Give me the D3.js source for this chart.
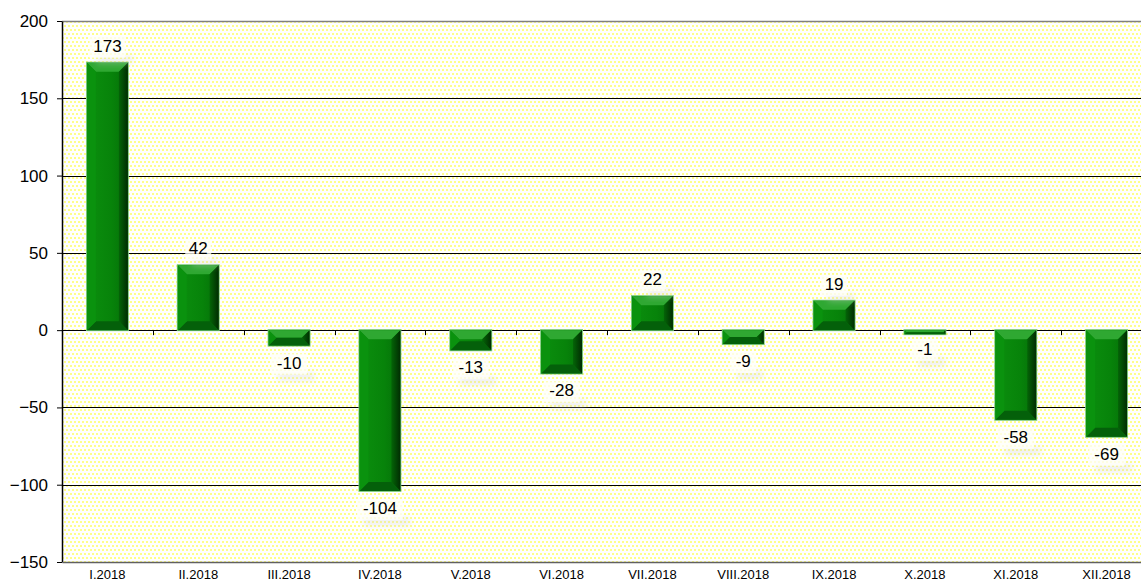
<!DOCTYPE html>
<html>
<head>
<meta charset="utf-8">
<script src="https://cdn.jsdelivr.net/npm/d3@7"></script>
<style>
  body { margin: 0; background: #fff; }
  svg { display: block; font-family: "Liberation Sans", Arial, sans-serif; }
</style>
</head>
<body>
<div id="chart"></div>
<script>
const categories = ['I.2018', 'II.2018', 'III.2018', 'IV.2018', 'V.2018', 'VI.2018',
  'VII.2018', 'VIII.2018', 'IX.2018', 'X.2018', 'XI.2018', 'XII.2018'];
const values = [173, 42, -10, -104, -13, -28, 22, -9, 19, -1, -58, -69];
const yTicks = [-150, -100, -50, 0, 50, 100, 150, 200];

const W = 1141, H = 586;
const margin = { top: 21, right: 0, bottom: 24, left: 62 };
const plotW = 1090;
const plotH = H - margin.top - margin.bottom;

const svg = d3.select('#chart').append('svg')
  .attr('width', W)
  .attr('height', H);

const defs = svg.append('defs');

// dotted yellow background
const pat = defs.append('pattern')
  .attr('id', 'dots')
  .attr('patternUnits', 'userSpaceOnUse')
  .attr('width', 4)
  .attr('height', 8);
pat.append('rect').attr('width', 4).attr('height', 8).attr('fill', '#ffffff');
pat.append('rect').attr('x', 0).attr('y', 0).attr('width', 2).attr('height', 2).attr('fill', '#ffff8a');
pat.append('rect').attr('x', 2).attr('y', 4).attr('width', 2).attr('height', 2).attr('fill', '#ffff8a');

const blur = defs.append('filter').attr('id', 'soft')
  .attr('x', '-30%').attr('y', '-60%').attr('width', '160%').attr('height', '220%');
blur.append('feGaussianBlur').attr('stdDeviation', 3);

// bar face gradient (left to right)
const face = defs.append('linearGradient').attr('id', 'face')
  .attr('x1', 0).attr('x2', 1).attr('y1', 0).attr('y2', 0);
face.append('stop').attr('offset', '0%').attr('stop-color', '#0b8f0e');
face.append('stop').attr('offset', '60%').attr('stop-color', '#07830a');
face.append('stop').attr('offset', '100%').attr('stop-color', '#056f08');

const side = defs.append('linearGradient').attr('id', 'side')
  .attr('x1', 0).attr('x2', 1).attr('y1', 0).attr('y2', 0);
side.append('stop').attr('offset', '0%').attr('stop-color', '#046507');
side.append('stop').attr('offset', '100%').attr('stop-color', '#012d02');

const g = svg.append('g')
  .attr('transform', `translate(${margin.left},${margin.top})`);

const x = d3.scaleBand()
  .domain(categories)
  .range([0, plotW])
  .paddingInner(0.55)
  .paddingOuter(0.275);

const y = d3.scaleLinear()
  .domain([-150, 200])
  .range([plotH, 0]);

g.append('rect')
  .attr('width', plotW)
  .attr('height', plotH)
  .attr('fill', 'url(#dots)');

// gridlines
g.append('g')
  .selectAll('line')
  .data(yTicks.filter(d => d !== 200 && d !== -150))
  .join('line')
  .attr('x1', 0)
  .attr('x2', plotW)
  .attr('y1', d => Math.round(y(d)) + 0.5)
  .attr('y2', d => Math.round(y(d)) + 0.5)
  .attr('stroke', '#000')
  .attr('stroke-width', 1);

// top border
g.append('line')
  .attr('x1', 0).attr('x2', plotW)
  .attr('y1', 0.5).attr('y2', 0.5)
  .attr('stroke', '#808080').attr('stroke-width', 1.5);

// y axis
const yAxis = g.append('g')
  .call(d3.axisLeft(y).tickValues(yTicks).tickSize(5).tickSizeOuter(0));
yAxis.select('.domain').attr('stroke', '#000').attr('stroke-width', 1.5);
yAxis.selectAll('.tick line').attr('stroke', '#000');
yAxis.selectAll('.tick text')
  .attr('x', -14)
  .attr('font-size', 17)
  .attr('font-family', '"Liberation Sans", Arial, sans-serif')
  .attr('fill', '#000');

// bottom border with category labels
const xAxis = g.append('g')
  .attr('transform', `translate(0,${plotH})`)
  .call(d3.axisBottom(x).tickSize(0).tickSizeOuter(0));
xAxis.select('.domain').attr('stroke', '#606060').attr('stroke-width', 1.5);
xAxis.selectAll('.tick text')
  .attr('dy', '1.05em')
  .attr('font-size', 13)
  .attr('font-family', '"Liberation Sans", Arial, sans-serif')
  .attr('fill', '#000');

// category ticks on zero line
const step = x.step();
g.append('g')
  .selectAll('line')
  .data(categories.slice(1))
  .join('line')
  .attr('x1', d => Math.round(x(d) - (step - x.bandwidth()) / 2) + 0.5)
  .attr('x2', d => Math.round(x(d) - (step - x.bandwidth()) / 2) + 0.5)
  .attr('y1', y(0))
  .attr('y2', y(0) + 5)
  .attr('stroke', '#000');

// bars with bevel
const data = categories.map((c, i) => ({ cat: c, val: values[i] }));
const bars = g.append('g').selectAll('g').data(data).join('g');

const bev = 9;
bars.each(function (d) {
  const sel = d3.select(this);
  const x0 = x(d.cat), x1 = x0 + x.bandwidth();
  const top = y(Math.max(0, d.val));
  const bot = Math.max(y(Math.min(0, d.val)), top + 4);
  const h = bot - top;
  const b = Math.min(bev, h / 2);
  sel.append('rect')
    .attr('x', x0 - 1).attr('y', top - 1)
    .attr('width', x1 - x0 + 2).attr('height', h + 2)
    .attr('fill', '#7cc87c');
  sel.append('rect')
    .attr('x', x0).attr('y', top)
    .attr('width', x1 - x0).attr('height', h)
    .attr('fill', 'url(#face)');
  const poly = (pts, fill) => sel.append('polygon')
    .attr('points', pts.map(p => p.join(',')).join(' '))
    .attr('fill', fill);
  poly([[x0, top], [x1, top], [x1 - b, top + b], [x0 + b, top + b]], '#2fa832');
  poly([[x1, top], [x1, bot], [x1 - b, bot - b], [x1 - b, top + b]], 'url(#side)');
  poly([[x0, bot], [x1, bot], [x1 - b, bot - b], [x0 + b, bot - b]], '#04600a');
  poly([[x0, top], [x0 + b, top + b], [x0 + b, bot - b], [x0, bot]], '#0a920e');
});

// value labels with soft shadow
const labels = g.append('g').selectAll('g').data(data).join('g')
  .attr('transform', d => {
    const cx = x(d.cat) + x.bandwidth() / 2;
    const ly = d.val >= 0 ? y(d.val) - 11 : y(d.val) + 23;
    return `translate(${cx},${ly})`;
  });

labels.append('rect')
  .attr('x', d => -String(d.val).length * 5 + 4)
  .attr('y', 4)
  .attr('width', d => String(d.val).length * 10 + 6)
  .attr('height', 8)
  .attr('fill', '#d0d0d0')
  .attr('opacity', 0.35)
  .attr('filter', 'url(#soft)');

labels.append('rect')
  .attr('x', d => -String(d.val).length * 5 - 3)
  .attr('y', -15)
  .attr('width', d => String(d.val).length * 10 + 6)
  .attr('height', 21)
  .attr('fill', '#fffffa')
  .attr('opacity', 0.75);

labels.append('text')
  .attr('text-anchor', 'middle')
  .attr('font-size', 17)
  .attr('fill', '#000')
  .text(d => d.val);
</script>
</body>
</html>
